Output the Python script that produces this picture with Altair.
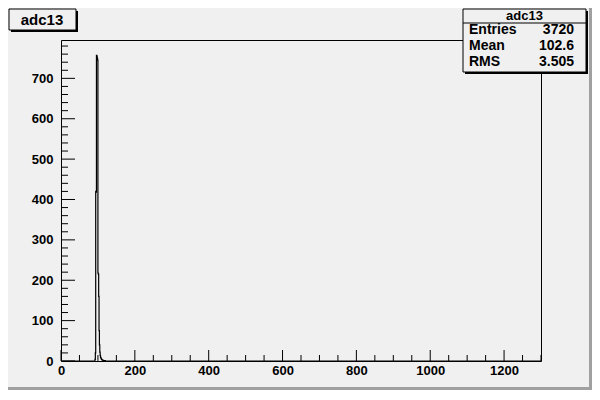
import altair as alt
import pandas as pd

# ---- data ----
x_range = [0, 1300]
bin_width = 1
peak_bins = [92, 93, 94, 95, 96, 97, 98, 99, 100, 101, 102, 103, 104, 105, 106,
             107, 108, 109, 110, 111, 112, 113, 114, 116, 119]
peak_counts = [4, 20, 420, 418, 757, 755, 750, 745, 218, 215, 160, 75, 40, 22, 14,
               9, 7, 5, 4, 3, 2, 2, 1, 1, 1]
y_range = [0, 795]

x_major = [0, 200, 400, 600, 800, 1000, 1200]
x_minor = [v for v in range(0, 1301, 50) if v not in x_major]
y_major = [0, 100, 200, 300, 400, 500, 600, 700]
y_minor = [v for v in range(0, 781, 20) if v not in y_major]

hist_title = "adc13"
stat_names = ["Entries", "Mean", "RMS"]
stat_values = ["3720", "102.6", "3.505"]

# ---- build histogram table (full binning, zeros where empty) ----
counts = {b: c for b, c in zip(peak_bins, peak_counts)}
edges = list(range(x_range[0], x_range[1] + bin_width, bin_width))
hist = pd.DataFrame({
    "x": edges,
    "n": [counts.get(e, 0) for e in edges],
})

FONT = "Liberation Sans"
W, H = 480, 321
PAD_L, PAD_T = 53, 32
TOT_W, TOT_H = 584, 382
BG = "#f0f0f0"

xs = alt.Scale(domain=x_range, nice=False, zero=False)
ys = alt.Scale(domain=y_range, nice=False)

x_axis = alt.Axis(values=x_major, title=None, ticks=False, domain=False, grid=False, format="d",
                  labelFont=FONT, labelFontWeight="bold", labelFontSize=13,
                  labelColor="black", labelPadding=3, labelFlush=False)
y_axis = alt.Axis(values=y_major, title=None, ticks=False, domain=False, grid=False, format="d",
                  labelFont=FONT, labelFontWeight="bold", labelFontSize=13,
                  labelColor="black", labelPadding=8)

one = pd.DataFrame({"a": [0]})

line = alt.Chart(hist).mark_line(interpolate="step-after", color="black", strokeWidth=1.2, clip=True).encode(
    x=alt.X("x:Q", scale=xs, axis=x_axis),
    y=alt.Y("n:Q", scale=ys, axis=y_axis),
)

xmaj = alt.Chart(pd.DataFrame({"v": x_major})).mark_rule(color="black").encode(
    x=alt.X("v:Q", scale=xs, axis=x_axis), y=alt.value(H), y2=alt.value(H - 11))
xmin = alt.Chart(pd.DataFrame({"v": x_minor})).mark_rule(color="black").encode(
    x=alt.X("v:Q", scale=xs, axis=x_axis), y=alt.value(H), y2=alt.value(H - 6))
ymaj = alt.Chart(pd.DataFrame({"v": y_major})).mark_rule(color="black").encode(
    y=alt.Y("v:Q", scale=ys, axis=y_axis), x=alt.value(0), x2=alt.value(14))
ymin = alt.Chart(pd.DataFrame({"v": y_minor})).mark_rule(color="black").encode(
    y=alt.Y("v:Q", scale=ys, axis=y_axis), x=alt.value(0), x2=alt.value(7))


def box(x1, y1, x2, y2, fill, stroke=None):
    kw = dict(fill=fill)
    if stroke:
        kw.update(stroke=stroke, strokeWidth=1)
    return alt.Chart(one).mark_rect(**kw).encode(
        x=alt.value(x1), x2=alt.value(x2), y=alt.value(y1), y2=alt.value(y2))


def label(txt, x, y, size, align):
    return alt.Chart(one).mark_text(text=txt, font=FONT, fontWeight="bold", fontSize=size,
                                    align=align, baseline="middle", color="black").encode(
        x=alt.value(x), y=alt.value(y))


# title box
t_sh = box(-50, -29, 17, -8, "black")
t_bx = box(-52, -31, 15, -10, BG, "black")
t_tx = label(hist_title, -19, -20, 15, "center")

# stats box
SX1, SX2, SY1, SY2 = 402, 525, -31, 32
s_sh = box(SX1 + 2, SY1 + 2, SX2 + 2, SY2 + 2, "black")
s_bx = box(SX1, SY1, SX2, SY2, BG, "black")
s_sep = alt.Chart(one).mark_rule(color="black").encode(
    x=alt.value(SX1), x2=alt.value(SX2), y=alt.value(-17))
s_tt = label(hist_title, (SX1 + SX2) / 2, -24, 13, "center")
row_y = [-10, 6, 22]
s_rows = []
for name, val, ry in zip(stat_names, stat_values, row_y):
    s_rows.append(label(name, SX1 + 6, ry, 14, "left"))
    s_rows.append(label(val, SX2 - 12, ry, 14, "right"))

# canvas bevel (right / bottom)
RX = TOT_W - PAD_L
BY = TOT_H - PAD_T
bev_r = box(RX - 3, -PAD_T, RX, BY, "#a0a0a0")
bev_b = box(-PAD_L, BY - 3, RX, BY, "#a0a0a0")

chart = alt.layer(
    line, xmaj, xmin, ymaj, ymin,
    bev_r, bev_b,
    t_sh, t_bx, t_tx,
    s_sh, s_bx, s_sep, s_tt, *s_rows,
).properties(
    width=W, height=H,
    padding={"left": PAD_L, "top": PAD_T, "right": TOT_W - PAD_L - W, "bottom": TOT_H - PAD_T - H},
    autosize=alt.AutoSizeParams(type="none"),
    background=BG,
).configure_view(stroke="black", strokeWidth=1, fill=BG)

chart.save("out.html", embed_options={"renderer": "svg", "actions": False})
